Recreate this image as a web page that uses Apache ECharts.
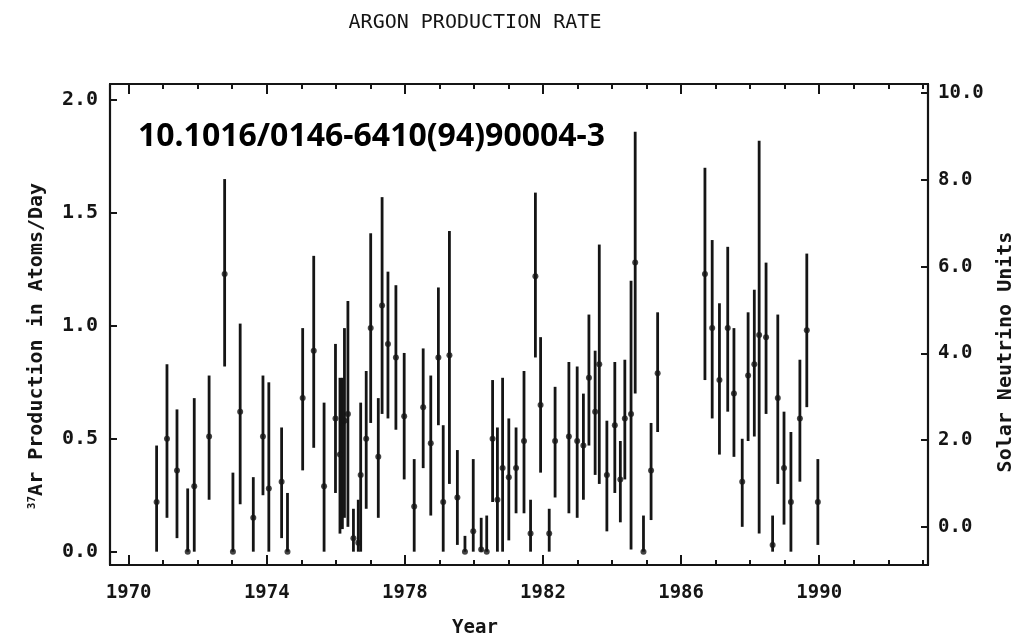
<!DOCTYPE html>
<html>
<head>
<meta charset="utf-8">
<title>Argon production rate</title>
<script src="https://cdn.jsdelivr.net/npm/echarts@6/dist/echarts.min.js"></script>
<style>
  html, body { margin: 0; background: #fff; }
  #chart { width: 1035px; height: 640px; }
</style>
</head>
<body>
<div id="chart"></div>
<script>
// run times (decimal year), production rate and its error bar ends, atoms/day
const years = [
  1970.81, 1971.11, 1971.40, 1971.71, 1971.90, 1972.33, 1972.78, 1973.02, 1973.23, 1973.61,
  1973.89, 1974.06, 1974.43, 1974.60, 1975.04, 1975.36, 1975.66, 1975.99, 1976.12, 1976.19,
  1976.25, 1976.35, 1976.51, 1976.65, 1976.72, 1976.88, 1977.01, 1977.23, 1977.34, 1977.51,
  1977.74, 1977.98, 1978.27, 1978.53, 1978.75, 1978.97, 1979.11, 1979.29, 1979.52, 1979.74,
  1979.98, 1980.21, 1980.37, 1980.54, 1980.68, 1980.83, 1981.01, 1981.22, 1981.45, 1981.64,
  1981.78, 1981.93, 1982.18, 1982.35, 1982.75, 1982.99, 1983.17, 1983.33, 1983.51, 1983.63,
  1983.85, 1984.08, 1984.24, 1984.37, 1984.55, 1984.67, 1984.91, 1985.13, 1985.32, 1986.69,
  1986.90, 1987.11, 1987.35, 1987.53, 1987.77, 1987.94, 1988.12, 1988.26, 1988.46, 1988.65,
  1988.80, 1988.98, 1989.18, 1989.44, 1989.64, 1989.96
];
const rates = [
  0.22, 0.50, 0.36, 0.00, 0.29, 0.51, 1.23, 0.00, 0.62, 0.15,
  0.51, 0.28, 0.31, 0.00, 0.68, 0.89, 0.29, 0.59, 0.43, 0.57,
  0.58, 0.61, 0.06, 0.04, 0.34, 0.50, 0.99, 0.42, 1.09, 0.92,
  0.86, 0.60, 0.20, 0.64, 0.48, 0.86, 0.22, 0.87, 0.24, 0.00,
  0.09, 0.01, 0.00, 0.50, 0.23, 0.37, 0.33, 0.37, 0.49, 0.08,
  1.22, 0.65, 0.08, 0.49, 0.51, 0.49, 0.47, 0.77, 0.62, 0.83,
  0.34, 0.56, 0.32, 0.59, 0.61, 1.28, 0.00, 0.36, 0.79, 1.23,
  0.99, 0.76, 0.99, 0.70, 0.31, 0.78, 0.83, 0.96, 0.95, 0.03,
  0.68, 0.37, 0.22, 0.59, 0.98, 0.22
];
const errLow = [
  0.00, 0.15, 0.06, 0.00, 0.00, 0.23, 0.82, 0.00, 0.21, 0.00,
  0.25, 0.00, 0.06, 0.00, 0.36, 0.46, 0.00, 0.26, 0.08, 0.10,
  0.15, 0.11, 0.00, 0.00, 0.00, 0.19, 0.57, 0.15, 0.61, 0.59,
  0.54, 0.32, 0.00, 0.37, 0.16, 0.56, 0.00, 0.30, 0.03, 0.00,
  0.00, 0.00, 0.00, 0.22, 0.00, 0.00, 0.05, 0.17, 0.17, 0.00,
  0.86, 0.35, 0.00, 0.24, 0.17, 0.15, 0.23, 0.47, 0.34, 0.30,
  0.09, 0.26, 0.13, 0.32, 0.01, 0.70, 0.00, 0.14, 0.53, 0.76,
  0.59, 0.43, 0.62, 0.42, 0.11, 0.49, 0.51, 0.08, 0.61, 0.00,
  0.30, 0.12, 0.00, 0.31, 0.64, 0.03
];
const errHigh = [
  0.47, 0.83, 0.63, 0.28, 0.68, 0.78, 1.65, 0.35, 1.01, 0.33,
  0.78, 0.75, 0.55, 0.26, 0.99, 1.31, 0.66, 0.92, 0.77, 0.77,
  0.99, 1.11, 0.19, 0.23, 0.66, 0.80, 1.41, 0.68, 1.57, 1.24,
  1.18, 0.88, 0.41, 0.90, 0.78, 1.17, 0.56, 1.42, 0.45, 0.07,
  0.41, 0.15, 0.16, 0.76, 0.55, 0.77, 0.59, 0.55, 0.80, 0.23,
  1.59, 0.95, 0.19, 0.73, 0.84, 0.82, 0.70, 1.05, 0.89, 1.36,
  0.58, 0.84, 0.49, 0.85, 1.20, 1.86, 0.16, 0.57, 1.06, 1.70,
  1.38, 1.10, 1.35, 0.99, 0.50, 1.06, 1.16, 1.82, 1.28, 0.16,
  1.05, 0.62, 0.53, 0.85, 1.32, 0.41
];

// tick labels
const yearLabels = [1970, 1974, 1978, 1982, 1986, 1990];
const yearTicks = [1970, 1971, 1972, 1973, 1974, 1975, 1976, 1977, 1978, 1979, 1980, 1981,
  1982, 1983, 1984, 1985, 1986, 1987, 1988, 1989, 1990, 1991, 1992, 1993];
const rateTicks = [0, 0.5, 1.0, 1.5, 2.0];
const snuTicks = [0, 2, 4, 6, 8, 10];

const ink = '#151515';
const mono = '"DejaVu Sans Mono", "Liberation Mono", monospace';

const X_MIN = 1969.46;
const X_MAX = 1993.15;

function yearAxis(position, ticks, tickLen, withLabels) {
  return {
    type: 'value',
    position,
    min: X_MIN,
    max: X_MAX,
    axisLine: { show: true, onZero: false, lineStyle: { color: ink, width: 2.2 } },
    axisTick: {
      show: true,
      inside: true,
      length: tickLen,
      customValues: ticks,
      lineStyle: { color: ink, width: 2 }
    },
    axisLabel: withLabels
      ? {
          customValues: yearLabels,
          formatter: (v) => String(v),
          color: ink,
          fontFamily: mono,
          fontSize: 19,
          fontWeight: 'bold',
          margin: 19
        }
      : { show: false },
    splitLine: { show: false }
  };
}

const barData = years.map((y, i) => [y, errLow[i], errHigh[i]]);
const pointData = years.map((y, i) => [y, rates[i]]);

const chart = echarts.init(document.getElementById('chart'));

chart.setOption({
  animation: false,
  backgroundColor: '#fff',
  grid: { left: 110, right: 107, top: 84, bottom: 75, containLabel: false },
  xAxis: [
    yearAxis('bottom', yearTicks, 5, true),
    yearAxis('bottom', yearLabels, 10, false),
    yearAxis('top', yearTicks, 5, false),
    yearAxis('top', yearLabels, 10, false)
  ],
  yAxis: [
    {
      type: 'value',
      position: 'left',
      min: -0.059,
      max: 2.071,
      axisLine: { show: true, onZero: false, lineStyle: { color: ink, width: 2.2 } },
      axisTick: { show: true, inside: true, length: 7, customValues: rateTicks, lineStyle: { color: ink, width: 2 } },
      axisLabel: {
        customValues: rateTicks,
        formatter: (v) => v.toFixed(1),
        color: ink,
        fontFamily: mono,
        fontSize: 20,
        fontWeight: 'bold',
        margin: 12
      },
      splitLine: { show: false }
    },
    {
      type: 'value',
      position: 'right',
      min: -0.88,
      max: 10.21,
      axisLine: { show: true, onZero: false, lineStyle: { color: ink, width: 2.2 } },
      axisTick: { show: true, inside: true, length: 7, customValues: snuTicks, lineStyle: { color: ink, width: 2 } },
      axisLabel: {
        customValues: snuTicks,
        formatter: (v) => v.toFixed(1),
        color: ink,
        fontFamily: mono,
        fontSize: 19,
        fontWeight: 'bold',
        margin: 10
      },
      splitLine: { show: false }
    }
  ],
  graphic: [
    {
      type: 'text',
      x: 475,
      y: 23,
      style: {
        text: 'ARGON PRODUCTION RATE',
        font: '20px "DejaVu Sans Mono"',
        fill: ink,
        textAlign: 'center',
        textVerticalAlign: 'middle'
      }
    },
    {
      type: 'text',
      x: 475,
      y: 628,
      style: {
        text: 'Year',
        font: 'bold 19px "DejaVu Sans Mono"',
        fill: ink,
        textAlign: 'center',
        textVerticalAlign: 'middle'
      }
    },
    {
      type: 'text',
      x: 37,
      y: 346,
      rotation: Math.PI / 2,
      style: {
        text: '{sup|37}Ar Production in Atoms/Day',
        font: 'bold 20px "DejaVu Sans Mono"',
        fill: ink,
        textAlign: 'center',
        textVerticalAlign: 'middle',
        rich: {
          sup: {
            font: 'bold 11px "DejaVu Sans Mono"',
            fill: ink,
            verticalAlign: 'top',
            padding: [0, 0, 8, 0]
          }
        }
      }
    },
    {
      type: 'text',
      x: 1006,
      y: 352,
      rotation: Math.PI / 2,
      style: {
        text: 'Solar Neutrino Units',
        font: 'bold 20px "DejaVu Sans Mono"',
        fill: ink,
        textAlign: 'center',
        textVerticalAlign: 'middle'
      }
    },
    {
      type: 'text',
      x: 138,
      y: 137,
      style: {
        text: '10.1016/0146-6410(94)90004-3',
        font: 'bold 32px "Noto Sans"',
        fill: '#000',
        textAlign: 'left',
        textVerticalAlign: 'middle'
      }
    }
  ],
  series: [
    {
      type: 'custom',
      xAxisIndex: 0,
      yAxisIndex: 0,
      data: barData,
      encode: { x: 0, y: [1, 2] },
      renderItem: (params, api) => {
        const top = api.coord([api.value(0), api.value(2)]);
        const bottom = api.coord([api.value(0), api.value(1)]);
        return {
          type: 'line',
          shape: { x1: top[0], y1: top[1], x2: bottom[0], y2: bottom[1] },
          style: { stroke: ink, lineWidth: 2.8 }
        };
      }
    },
    {
      type: 'scatter',
      xAxisIndex: 0,
      yAxisIndex: 0,
      data: pointData,
      symbol: 'circle',
      symbolSize: 6,
      itemStyle: { color: ink }
    }
  ]
});
</script>
</body>
</html>
